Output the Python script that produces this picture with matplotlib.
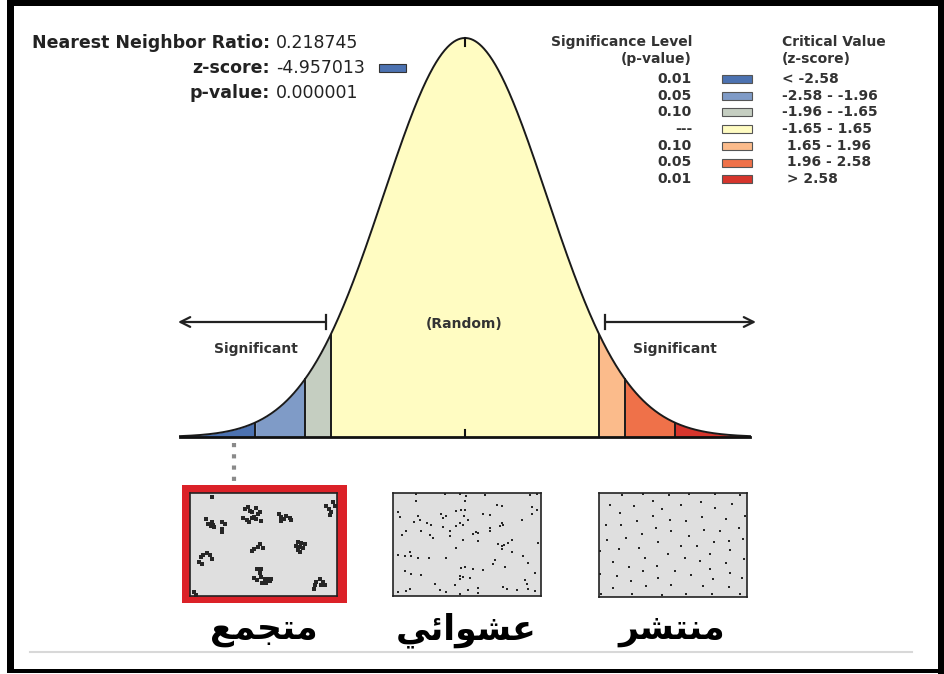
import matplotlib
matplotlib.use("Agg")
import matplotlib.pyplot as plt
import numpy as np
from matplotlib.patches import Rectangle

W, H = 945, 674

# critical z-score boundaries and the fill colour of each bin between them
crit_z = [-2.58, -1.96, -1.65, 1.65, 1.96, 2.58]
bin_colors = ["#4c72b1", "#7f9bc7", "#c5cec1", "#fffcc2", "#fbbb8b", "#ef7149", "#d6352c"]
z_min, z_max = -3.5, 3.5

# result block (top left)
stat_labels = ["Nearest Neighbor Ratio:", "z-score:", "p-value:"]
stat_values = ["0.218745", "-4.957013", "0.000001"]
zscore_color = bin_colors[0]

# legend
legend_title_p = ["Significance Level", "(p-value)"]
legend_title_z = ["Critical Value", "(z-score)"]
legend_p = ["0.01", "0.05", "0.10", "---", "0.10", "0.05", "0.01"]
legend_z = ["< -2.58", "-2.58 - -1.96", "-1.96 - -1.65", "-1.65 - 1.65",
            " 1.65 - 1.96", " 1.96 - 2.58", " > 2.58"]

# point patterns, 0-100 units inside each square (y from top)
clustered_x = [15.2, 10.9, 12.4, 14.0, 15.4, 16.3, 14.7, 21.5, 23.8, 21.5, 21.7,
               37.3, 39.6, 40.7, 45.2, 47.5, 46.4, 36.2, 38.5, 40.3, 41.9, 43.4, 45.2, 48.6, 42.5,
               60.6, 62.2, 63.8, 65.6, 67.9, 69.0, 61.8,
               92.8, 94.6, 97.3, 96.2, 95.0, 98.4,
               47.5, 46.4, 43.4, 42.5, 49.8,
               73.5, 75.8, 78.1, 71.9, 74.7, 76.9, 73.5, 75.1,
               7.2, 9.0, 11.3, 13.6, 14.7, 6.3, 7.9,
               45.7, 48.6, 47.5, 43.4, 45.7, 48.6, 50.9, 53.2, 54.3, 55.4, 51.8, 49.3,
               84.8, 86.0, 88.2, 90.5, 89.4, 91.6, 84.2,
               2.7, 4.1]
clustered_y = [4.2, 25.2, 30.0, 31.6, 31.0, 33.2, 28.4, 27.7, 30.0, 34.8, 38.1,
               15.5, 13.9, 17.1, 14.8, 18.1, 20.3, 24.5, 25.8, 27.7, 24.5, 23.5, 25.2, 26.8, 18.7,
               20.3, 23.5, 25.2, 21.9, 24.5, 25.8, 26.8,
               12.9, 15.5, 9.0, 18.7, 21.3, 12.3,
               49.4, 52.6, 54.2, 56.5, 53.5,
               47.1, 48.4, 49.4, 51.0, 52.6, 53.5, 55.8, 57.4,
               62.3, 60.6, 58.1, 60.0, 64.5, 67.1, 68.7,
               74.2, 73.5, 77.4, 82.6, 84.8, 81.6, 83.2, 83.9, 85.8, 83.2, 87.4, 87.1,
               89.7, 86.5, 83.9, 86.5, 89.7, 89.7, 92.9,
               96.1, 98.7]

random_px = [(85, 18), (170, 18), (215, 18), (235, 25), (290, 22), (425, 20), (445, 18),
             (85, 40), (230, 40), (325, 50), (340, 55), (432, 58), (445, 65),
             (30, 72), (160, 78), (205, 70), (220, 65), (230, 65), (285, 78), (305, 82), (430, 78),
             (35, 88), (90, 85), (95, 95), (165, 90), (175, 85), (228, 85), (238, 95), (400, 95),
             (78, 102), (118, 105), (130, 110), (215, 105), (225, 110), (340, 105), (345, 112),
             (55, 128), (98, 130), (165, 118), (185, 128), (205, 115), (305, 120), (335, 115),
             (42, 140), (125, 140), (135, 150), (185, 145), (255, 138), (262, 132), (270, 135), (305, 130),
             (225, 155), (270, 158), (370, 155),
             (330, 168), (340, 175), (348, 170), (358, 165), (448, 165),
             (205, 180), (340, 185), (370, 192),
             (65, 192), (68, 205), (30, 202), (52, 205), (90, 210), (122, 210), (175, 210), (405, 205),
             (320, 218), (315, 230), (350, 237), (418, 225),
             (220, 240), (230, 237), (255, 245), (285, 248),
             (52, 250), (68, 260), (100, 262), (215, 265), (225, 268), (245, 272), (440, 255),
             (215, 275), (410, 278), (415, 290), (140, 290), (200, 292), (345, 298),
             (65, 305), (55, 310), (30, 312), (155, 308), (175, 312), (215, 318), (238, 308),
             (268, 300), (270, 315), (355, 305), (385, 308), (420, 305), (440, 310)]
random_x = [(p[0] - 15) / 4.43 for p in random_px]
random_y = [(p[1] - 15) / 3.10 for p in random_px]

dispersed_px = [(85, 22), (148, 18), (225, 22), (285, 18), (365, 18), (440, 20),
                (48, 50), (120, 55), (178, 40), (262, 52), (322, 42), (415, 48),
                (78, 75), (205, 62), (365, 60), (455, 85), (178, 85), (228, 95), (278, 98), (325, 88), (398, 92),
                (35, 110), (130, 100), (82, 110), (185, 120), (232, 130), (330, 125), (380, 128), (435, 120),
                (38, 155), (95, 150), (145, 138), (192, 162), (285, 145), (360, 162), (405, 158), (448, 152),
                (75, 185), (135, 180), (262, 175), (310, 175), (408, 188),
                (18, 190), (152, 210), (222, 198), (275, 210), (350, 200), (452, 215),
                (58, 222), (105, 238), (190, 235), (318, 220), (398, 225),
                (148, 250), (245, 250), (350, 243), (410, 255), (18, 258),
                (68, 265), (192, 270), (292, 262), (445, 272),
                (112, 280), (232, 292), (328, 295), (358, 275), (405, 298),
                (58, 300), (155, 295),
                (20, 320), (115, 320), (205, 322), (278, 318), (355, 320), (438, 320)]
dispersed_x = [(p[0] - 15) / 4.45 for p in dispersed_px]
dispersed_y = [(p[1] - 15) / 3.13 for p in dispersed_px]

# Arabic captions, pre-shaped presentation forms in visual order
# متجمع / عشوائي / منتشر
captions = ["\uFECA\uFEE4\uFEA0\uFE98\uFEE3",
            "\uFEF2\uFE8B\uFE8D\uFEEE\uFEB8\uFECB",
            "\uFEAE\uFEB8\uFE98\uFEE8\uFEE3"]

fig = plt.figure(figsize=(W / 100, H / 100), dpi=100)
fig.patch.set_facecolor("white")

# pixel-space canvas for texts and decorations
ax = fig.add_axes([0, 0, 1, 1])
ax.set_xlim(0, W)
ax.set_ylim(H, 0)
ax.axis("off")

# outer black frame
for (x0, y0, w, h) in [(7, 0, 938, 6), (7, 0, 7, 673), (938, 0, 7, 674), (7, 669, 938, 4)]:
    ax.add_patch(Rectangle((x0, y0), w, h, color="black", lw=0))

# result text
txt_col = "#222222"
for i, (lab, val) in enumerate(zip(stat_labels, stat_values)):
    yb = 48 + i * 25
    ax.text(270, yb, lab, ha="right", va="baseline", fontsize=12.5, fontweight="bold", color=txt_col)
    ax.text(276, yb, val, ha="left", va="baseline", fontsize=12.5, color=txt_col)
ax.add_patch(Rectangle((379, 64), 27, 8, facecolor=zscore_color, edgecolor="#333333", lw=0.8))

# legend
leg_col = "#333333"
fs_leg = 10
for i, t in enumerate(legend_title_p):
    ax.text(692, 42 + i * 16.7, t, ha="right", va="center", fontsize=fs_leg, fontweight="bold", color=leg_col)
for i, t in enumerate(legend_title_z):
    ax.text(782, 42 + i * 16.7, t, ha="left", va="center", fontsize=fs_leg, fontweight="bold", color=leg_col)
for i, (p, zr, c) in enumerate(zip(legend_p, legend_z, bin_colors)):
    yc = 79 + i * 16.7
    ax.text(692, yc, p, ha="right", va="center", fontsize=fs_leg, fontweight="bold", color=leg_col)
    ax.add_patch(Rectangle((722, yc - 4), 30, 8, facecolor=c, edgecolor="#555555", lw=0.8))
    ax.text(782, yc, zr, ha="left", va="center", fontsize=fs_leg, fontweight="bold", color=leg_col)

# significance arrows
arrow_kw = dict(arrowstyle="->,head_length=0.7,head_width=0.35", color="#222222", lw=1.6,
                shrinkA=0, shrinkB=0)
ax.annotate("", xy=(178, 322), xytext=(326, 322), arrowprops=arrow_kw)
ax.annotate("", xy=(756, 322), xytext=(605, 322), arrowprops=arrow_kw)
ax.plot([326, 326], [315, 329], color="#222222", lw=1.6)
ax.plot([605, 605], [315, 329], color="#222222", lw=1.6)
ax.text(256, 349, "Significant", ha="center", va="center", fontsize=fs_leg, fontweight="bold", color=leg_col)
ax.text(675, 349, "Significant", ha="center", va="center", fontsize=fs_leg, fontweight="bold", color=leg_col)

# dotted connector from the curve to the clustered pattern
ax.plot([234, 234], [443, 485], color="#8a8a8a", lw=3, linestyle=(0, (1, 1.7)))

# red highlight around the clustered square
ax.add_patch(Rectangle((182, 485), 165, 118, color="#db2128", lw=0))

# light rule under the captions
ax.plot([30, 912], [652, 652], color="#d8d8d8", lw=1.5)

# normal curve
cax = fig.add_axes([180 / W, 1 - 437 / H, 570 / W, 399 / H])
z = np.linspace(z_min, z_max, 800)
pdf = np.exp(-z ** 2 / 2) / np.sqrt(2 * np.pi)
pdf_max = 1 / np.sqrt(2 * np.pi)
cax.set_xlim(z_min, z_max)
cax.set_ylim(0, pdf_max)
cax.axis("off")
edges = [z_min] + crit_z + [z_max]
for lo, hi, c in zip(edges[:-1], edges[1:], bin_colors):
    m = (z >= lo) & (z <= hi)
    cax.fill_between(z[m], 0, pdf[m], color=c, lw=0)
cax.plot(z, pdf, color="#1a1a1a", lw=1.4, clip_on=False)
for zc in crit_z:
    cax.plot([zc, zc], [0, np.exp(-zc ** 2 / 2) / np.sqrt(2 * np.pi)], color="#1a1a1a", lw=1.4)
cax.plot([z_min, z_max], [0, 0], color="#111111", lw=2, clip_on=False)
cax.plot([0, 0], [0, 0.007], color="#111111", lw=1.5)
cax.plot([0, 0], [pdf_max - 0.008, pdf_max], color="#111111", lw=1.5, clip_on=False)
cax.text(464, 324, "(Random)", transform=ax.transData, ha="center", va="center",
         fontsize=fs_leg, fontweight="bold", color=leg_col)

# point-pattern squares
panels = [((190, 493, 147, 103), clustered_x, clustered_y, 2.2),
          ((393, 493, 148, 103), random_x, random_y, 2.0),
          ((599, 493, 148, 104), dispersed_x, dispersed_y, 2.0)]
for (px, py, pw, ph), xs, ys, ms in panels:
    pax = fig.add_axes([px / W, 1 - (py + ph) / H, pw / W, ph / H])
    pax.set_facecolor("#dfdfdf")
    pax.set_xlim(0, 100)
    pax.set_ylim(100, 0)
    pax.set_xticks([])
    pax.set_yticks([])
    for s in pax.spines.values():
        s.set_color("#222222")
        s.set_linewidth(1.2)
    pax.plot(xs, ys, "s", color="#262626", ms=ms, mew=0, clip_on=False)

# Arabic captions
for cx, t in zip([264, 466, 672], captions):
    ax.text(cx, 630, t, ha="center", va="center", fontsize=25, fontweight="bold",
            family=["DejaVu Sans"], color="black")

fig.savefig("out.png", dpi=100)
